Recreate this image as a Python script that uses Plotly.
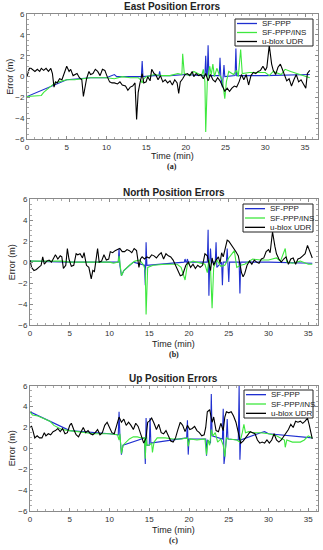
import plotly.graph_objects as go

# ---------------- East ----------------
e_ublox_t = [0,0.3,0.5,0.8,1.0,1.3,1.6,1.8,2.1,2.4,2.7,3.0,3.2,3.4,3.6,3.8,4.1,4.4,4.7,5.0,5.3,5.5,5.8,6.0,6.3,6.6,6.9,7.1,7.3,7.5,7.8,8.0,8.3,8.6,8.9,9.2,9.5,9.8,10.1,10.4,10.7,11.0,11.4,11.7,12.0,12.4,12.7,13.0,13.3,13.6,13.8,14.0,14.2,14.5,14.7,15.0,15.2,15.5,15.7,16.0,16.2,16.5,16.8,17.1,17.4,17.7,18.0,18.3,18.6,18.9,19.1,19.3,19.6,19.9,20.2,20.5,20.8,21.0,21.3,21.6,21.9,22.2,22.5,22.8,23.1,23.4,23.7,24.0,24.3,24.6,24.9,25.2,25.5,25.8,26.1,26.4,26.7,27.0,27.3,27.6,27.9,28.2,28.5,28.8,29.1,29.4,29.7,30.0,30.2,30.5,30.8,31.0,31.3,31.6,31.9,32.1,32.4,32.7,33.0,33.3,33.6,33.9,34.2,34.5,34.8,35.1,35.3,35.6]
e_ublox_v = [0.0,0.8,0.8,0.6,0.5,0.7,0.5,0.8,0.6,0.8,0.5,0.8,0.3,-1.0,-0.5,-0.6,-0.2,-0.3,0.3,1.0,0.5,0.7,0.1,0.2,0.3,-0.1,-0.3,-1.9,-0.8,-0.2,0.5,0.2,0.3,0.7,0.5,0.1,0.7,0.6,0.0,-0.5,-0.6,-0.6,-0.7,-0.5,-0.8,-0.9,-1.3,-1.0,-0.9,-0.6,-4.1,-1.5,-0.7,0.3,-0.6,-0.5,0.0,-0.4,0.7,0.3,0.2,-0.3,0.1,-0.5,-0.3,-0.6,-0.4,-0.8,-0.3,-0.6,-1.6,-0.5,-0.2,0.2,0.3,0.1,0.5,0.0,0.3,0.1,0.2,-0.2,0.3,-0.4,0.2,-0.3,-0.5,-0.1,-0.4,-0.9,-1.4,-1.1,-1.4,-1.1,-0.9,-1.0,-0.5,0.2,-0.3,0.2,-0.8,0.1,0.4,0.3,0.5,0.6,1.0,0.6,0.9,3.0,1.2,0.6,0.2,0.9,1.2,0.8,0.1,-0.4,-0.2,-0.9,-0.3,0.2,-0.5,-0.3,-0.7,-1.1,0.3,0.6]

e_ins_t = [0,1.8,2.1,2.6,3.0,3.5,4.0,5.0,6.0,7.0,8.0,10.0,11.0,12.0,13.0,14.0,14.3,14.5,14.7,15.0,16.0,17.0,18.0,19.0,19.5,19.6,19.8,20.5,21.0,22.0,22.2,22.4,22.5,22.7,23.0,23.2,23.4,23.6,23.9,24.2,24.6,24.9,25.1,25.4,26.0,26.4,26.6,26.9,27.1,28.0,30.0,30.5,31.0,32.0,32.5,33.2,34.0,35.0,35.6]
e_ins_v = [-1.9,-1.8,-1.5,-1.2,-0.9,-0.6,-0.5,-0.3,-0.3,-0.2,-0.1,-0.1,-0.2,0.0,-0.1,-0.1,-0.3,-0.6,-0.2,0.0,0.2,0.1,0.1,0.3,0.2,2.2,0.3,0.1,0.5,0.1,0.7,-0.5,-5.3,-0.5,1.0,0.2,1.2,0.0,0.8,0.2,-0.3,-2.1,-0.5,0.5,0.2,0.6,0.0,2.6,0.3,0.4,0.4,0.1,0.5,0.2,0.7,0.5,0.3,0.1,-0.1]

e_ppp_t = [0,3.0,5.0,8.0,10.0,11.0,11.3,12.0,14.0,14.4,14.5,14.6,16.0,16.6,16.7,16.8,18.0,20.0,22.0,22.4,22.5,22.6,22.7,22.8,22.9,24.2,24.3,24.4,24.6,24.8,24.9,26.2,26.3,26.4,27.0,30.0,35.6]
e_ppp_v = [-1.9,-0.9,-0.3,-0.1,-0.1,0.2,0.0,0.0,0.0,0.0,1.5,0.0,0.1,0.1,0.5,0.1,0.1,0.2,0.1,0.1,2.0,0.0,0.2,3.0,0.1,0.1,1.8,0.0,-1.0,1.1,0.0,0.1,2.7,0.1,0.1,0.1,0.2]

# ---------------- North ----------------
n_ublox_t = [0,0.2,0.5,0.8,1.1,1.4,1.6,1.8,2.1,2.4,2.7,3.0,3.2,3.5,3.8,4.0,4.2,4.5,4.7,4.9,5.2,5.5,5.8,6.0,6.3,6.6,6.8,7.1,7.4,7.7,7.9,8.1,8.3,8.5,8.7,9.0,9.3,9.6,9.9,10.1,10.4,10.7,11.0,11.3,11.6,11.9,12.2,12.5,12.8,13.1,13.4,13.7,13.9,14.1,14.4,14.7,15.0,15.3,15.6,15.9,16.2,16.5,16.8,17.1,17.4,17.7,18.0,18.3,18.6,18.9,19.2,19.4,19.6,19.9,20.2,20.5,20.8,21.1,21.4,21.7,22.0,22.3,22.5,22.7,22.9,23.1,23.4,23.7,23.9,24.1,24.3,24.6,24.8,25.0,25.3,25.6,25.9,26.2,26.4,26.6,26.8,27.0,27.3,27.6,27.9,28.2,28.5,28.8,29.1,29.4,29.7,30.0,30.2,30.5,30.8,31.0,31.3,31.6,31.9,32.2,32.5,32.8,33.1,33.4,33.7,34.0,34.3,34.6,34.9,35.2,35.5]
n_ublox_v = [0.2,-0.5,-0.8,-0.7,-0.5,-0.3,0.5,-0.2,0.1,0.2,0.0,0.5,0.7,0.3,0.6,0.5,-0.6,-0.3,1.3,0.3,-0.4,-0.3,0.8,0.7,0.8,0.4,0.9,-0.3,-0.5,-1.6,-0.8,-0.9,0.2,1.3,0.0,0.1,0.7,0.2,0.3,1.0,0.9,1.1,1.2,1.3,1.0,1.0,1.2,1.1,0.9,1.3,1.1,-0.5,0.3,0.5,0.3,0.5,0.4,0.7,0.6,0.4,0.7,0.9,0.3,0.8,0.6,0.5,0.2,-0.3,-0.8,-1.3,-1.2,-0.7,-0.3,0.0,-0.5,-0.2,-0.6,-0.3,-0.5,-0.3,0.8,0.6,0.0,-0.8,0.4,-0.3,0.2,0.5,-0.1,0.9,0.5,1.5,2.1,2.0,1.7,1.3,1.0,0.6,-0.3,-1.0,-1.4,-1.1,-0.3,0.1,-0.2,0.2,0.0,-0.1,0.3,0.4,1.0,1.2,0.9,2.9,1.5,0.8,0.3,0.0,0.3,0.5,-0.2,0.3,0.4,-0.2,0.3,0.4,0.6,0.8,1.6,1.0,0.4]

n_ins_t = [0,2.0,4.0,5.0,8.0,10.0,10.5,11.1,11.2,11.3,11.5,11.8,12.5,13.2,13.8,14.3,14.5,14.6,14.8,15.5,17.0,18.5,19.0,19.5,19.8,20.5,21.5,22.0,22.3,22.5,22.7,22.9,23.1,23.5,24.0,24.5,25.0,25.7,26.0,26.5,27.0,28.0,29.0,30.0,31.0,31.5,32.1,32.3,33.0,34.0,35.0,35.5]
n_ins_v = [0.1,0.1,0.1,0.0,0.0,0.0,-0.1,0.0,0.6,-0.3,-1.3,-0.8,-0.3,0.1,0.2,-0.3,-0.8,-5.0,-0.5,-0.3,-0.2,-0.2,-0.5,-1.7,-0.2,0.1,-0.1,-0.2,-1.0,0.3,-0.5,-4.4,-0.5,0.2,-0.4,-0.3,0.4,1.1,-0.5,-0.3,-0.2,0.3,0.2,0.2,0.4,0.1,1.3,0.0,-0.1,0.1,-0.2,-0.2]

n_ppp_t = [0,5.0,10.0,11.1,11.2,11.3,11.5,11.8,13.0,14.4,14.5,14.6,14.7,16.0,19.4,19.5,19.6,19.7,19.8,19.9,21.0,22.3,22.4,22.5,22.6,22.7,22.8,23.3,23.4,23.5,24.1,24.2,24.3,24.7,24.8,24.9,25.0,25.1,26.3,26.4,26.5,27.0,30.0,35.5]
n_ppp_v = [0.1,0.0,0.0,0.0,1.3,-0.3,-1.3,-0.8,0.0,-0.3,-2.2,1.9,-0.3,-0.2,0.0,0.3,0.0,0.0,0.3,0.0,0.0,0.0,3.1,-3.2,0.0,1.3,0.0,0.0,1.9,-0.5,0.0,-2.2,0.0,0.0,1.3,0.0,-1.9,0.0,0.0,-3.0,0.0,0.0,0.0,-0.1]

# ---------------- Up ----------------
u_ublox_t = [0,0.2,0.4,0.6,0.9,1.2,1.5,1.8,2.0,2.3,2.6,2.9,3.2,3.5,3.8,4.1,4.4,4.7,5.0,5.2,5.5,5.8,6.1,6.4,6.7,7.0,7.3,7.6,7.9,8.2,8.5,8.8,9.1,9.4,9.7,10.0,10.3,10.6,10.9,11.2,11.5,11.8,12.1,12.4,12.7,13.0,13.3,13.6,14.0,14.3,14.6,14.8,15.0,15.3,15.6,15.9,16.2,16.5,16.8,17.1,17.4,17.7,18.0,18.3,18.6,18.9,19.2,19.5,19.8,20.1,20.4,20.7,21.0,21.3,21.6,21.9,22.1,22.3,22.6,22.9,23.1,23.4,23.7,24.0,24.3,24.5,24.7,25.0,25.3,25.6,25.9,26.2,26.5,26.8,27.1,27.4,27.7,28.0,28.3,28.6,28.9,29.2,29.5,29.8,30.1,30.4,30.7,31.0,31.3,31.6,31.9,32.2,32.5,32.8,33.1,33.4,33.7,34.0,34.3,34.6,34.9,35.1,35.3,35.5]
u_ublox_v = [2.0,2.1,1.6,1.0,1.2,1.0,1.0,1.5,1.2,1.4,1.3,1.6,1.7,1.9,1.6,1.9,1.4,1.5,2.2,2.4,1.8,1.3,1.1,1.6,2.0,1.5,1.7,1.4,1.3,1.5,1.8,1.3,1.5,2.2,2.5,2.0,1.5,1.4,2.2,3.0,2.5,2.8,2.2,2.5,2.2,1.8,2.4,2.1,1.2,0.5,1.0,2.5,2.6,2.9,2.4,1.8,2.3,1.5,1.4,1.7,1.2,0.7,0.6,1.0,1.8,2.5,2.2,1.6,2.2,1.8,1.9,2.1,1.7,1.5,1.2,1.3,2.0,3.5,3.7,2.5,3.0,1.7,1.6,2.4,1.7,3.0,3.5,3.4,3.5,3.1,2.5,1.5,0.5,0.7,1.0,1.2,1.6,1.5,1.4,0.8,0.5,0.6,0.5,0.8,0.5,0.8,1.4,0.8,0.6,0.8,1.1,1.5,1.8,2.3,2.0,2.6,2.5,2.6,2.4,2.6,2.9,2.3,1.5,0.9]

u_ins_t = [0,0.3,1.0,2.0,2.5,3.0,3.5,4.0,5.0,6.0,7.0,8.0,9.0,10.0,11.0,11.2,11.3,11.5,11.7,12.0,12.5,13.0,13.5,14.0,14.4,14.5,14.6,14.7,15.0,15.3,15.4,15.6,16.0,17.0,18.0,19.0,19.8,19.9,20.1,21.0,22.0,22.2,22.4,22.6,22.8,23.0,23.3,23.6,24.0,24.3,24.5,24.7,25.0,26.0,26.4,26.7,26.9,27.1,27.5,28.0,29.0,30.0,31.0,31.5,32.0,32.1,32.3,33.0,34.0,34.5,35.0,35.5]
u_ins_v = [3.5,3.2,3.1,2.8,2.6,2.2,2.0,1.8,1.7,1.6,1.5,1.4,1.4,1.4,1.3,0.8,1.4,-0.5,0.3,0.5,0.9,1.1,1.1,1.0,1.0,-1.0,1.2,0.3,0.3,0.5,-0.4,0.6,1.0,1.0,0.9,0.9,1.0,0.2,0.9,0.8,0.9,-0.6,0.8,0.3,1.8,1.2,1.5,0.6,0.9,0.3,-0.8,1.0,0.9,0.8,0.6,1.5,2.3,1.5,1.6,1.5,1.5,1.4,1.2,1.0,0.8,0.1,0.8,0.6,0.6,0.8,1.2,1.0]

u_ppp_t = [0,5.0,10.0,11.1,11.2,11.3,11.5,11.7,14.4,14.5,14.6,14.7,15.0,15.1,15.2,19.7,19.8,19.9,20.0,22.1,22.2,22.3,22.7,22.8,22.9,24.2,24.3,24.4,24.5,24.7,24.8,24.9,26.2,26.3,26.4,26.5,29.0,29.5,30.0,35.5]
u_ppp_v = [3.5,1.7,1.4,1.3,3.5,1.4,-0.6,0.3,1.0,-1.5,2.9,0.3,0.3,2.9,0.5,1.0,2.7,-0.6,0.9,0.9,-0.7,0.8,0.5,5.2,1.2,0.9,3.8,-1.5,-0.8,1.0,2.8,0.9,0.8,6.0,-1.1,0.8,1.5,1.6,1.4,1.0]

titles = ["East Position Errors", "North Position Errors", "Up Position Errors"]
sublabels = ["(a)", "(b)", "(c)"]
names = ["SF-PPP", "SF-PPP/INS", "u-blox UDR"]
y_ticks = [-6, -4, -2, 0, 2, 4, 6]
x_ticks = [0, 5, 10, 15, 20, 25, 30, 35]

panels = [
    (e_ppp_t, e_ppp_v, e_ins_t, e_ins_v, e_ublox_t, e_ublox_v),
    (n_ppp_t, n_ppp_v, n_ins_t, n_ins_v, n_ublox_t, n_ublox_v),
    (u_ppp_t, u_ppp_v, u_ins_t, u_ins_v, u_ublox_t, u_ublox_v),
]

W, H = 323, 550
# pixel boxes: (left, right, top, bottom, x-pixel of tick 35)
boxes = [(27, 317.7, 14, 139.3, 305), (30, 317.7, 199.3, 325, 308.3), (30, 317.7, 385.7, 511, 308.3)]
# legend boxes: (left, right, top, bottom)
leg_boxes = [(235, 313, 19, 46), (243, 313, 204, 232), (244, 313, 390, 418)]
xlabel_off = [16.5, 18.5, 18.5]
sub_off = [27, 29.5, 29.5]
ylabel_x = [10, 12, 12]
colors = ["#1f2fd0", "#3ee83e", "#000000"]

fig = go.Figure()
FONT = "Liberation Sans, Arial, sans-serif"
axis_style = dict(showgrid=False, zeroline=False, showline=True, linecolor="#8a8a8a",
                  linewidth=1, mirror="ticks", ticks="inside", ticklen=3, automargin=False,
                  tickcolor="#8a8a8a", tickfont=dict(size=8, color="#333", family=FONT))

annotations = []
shapes = []
def ann(text, x, y, size=9, family=FONT, xanchor="center", angle=0):
    return dict(text=text, x=x, y=y, xref="paper", yref="paper", showarrow=False,
                xanchor=xanchor, yanchor="middle", textangle=angle,
                font=dict(size=size, family=family, color="#222"))

for i, p in enumerate(panels):
    n = i + 1
    xa = "x" if n == 1 else f"x{n}"
    ya = "y" if n == 1 else f"y{n}"
    for k in range(3):
        fig.add_trace(go.Scatter(x=p[2*k], y=p[2*k+1], mode="lines", name=names[k],
                                 line=dict(color=colors[k], width=1.1),
                                 xaxis=xa, yaxis=ya, showlegend=False))
    l, r, t, b, x35 = boxes[i]
    xd = [l / W, r / W]
    yd = [1 - b / H, 1 - t / H]
    xr = [0, 35 * (r - l) / (x35 - l)]
    fig.update_layout(**{
        ("xaxis" if n == 1 else f"xaxis{n}"): dict(domain=xd, range=xr, tickvals=x_ticks,
            anchor=ya, minor=dict(ticks="inside", ticklen=2, dtick=1, tickcolor="#aaa"), **axis_style),
        ("yaxis" if n == 1 else f"yaxis{n}"): dict(domain=yd, range=[-6, 6], tickvals=y_ticks,
            anchor=xa, minor=dict(ticks="inside", ticklen=2, dtick=0.5, tickcolor="#aaa"), **axis_style),
    })
    cx = (l + r) / 2 / W
    annotations.append(ann(f"<b>{titles[i]}</b>", cx, 1 - (t - 7) / H, size=10))
    annotations.append(ann("Time (min)", cx, 1 - (b + xlabel_off[i]) / H))
    annotations.append(ann("Error (m)", ylabel_x[i] / W, 1 - (t + b) / 2 / H, angle=-90))
    annotations.append(ann(f"<b>{sublabels[i]}</b>", cx, 1 - (b + sub_off[i]) / H,
                           size=8, family="Liberation Serif, serif"))
    # legend box
    ll, lr, lt, lb = leg_boxes[i]
    shapes.append(dict(type="rect", xref="paper", yref="paper", x0=ll / W, x1=lr / W,
                       y0=1 - lb / H, y1=1 - lt / H, fillcolor="white",
                       line=dict(color="#222", width=1), layer="above"))
    rowh = (lb - lt) / 3
    for k in range(3):
        yy = 1 - (lt + rowh * (k + 0.5)) / H
        shapes.append(dict(type="line", xref="paper", yref="paper", x0=(ll + 2) / W,
                           x1=(ll + 22) / W, y0=yy, y1=yy, layer="above",
                           line=dict(color=colors[k], width=1.3)))
        annotations.append(ann(names[k], (ll + 25) / W, yy, size=8, xanchor="left"))

fig.update_layout(width=W, height=H, margin=dict(l=0, r=0, t=0, b=0),
                  plot_bgcolor="white", paper_bgcolor="white",
                  annotations=annotations, shapes=shapes, showlegend=False)
fig.write_html("out.html", config={"displayModeBar": False},
               post_script="document.body.style.margin='0';document.body.style.overflow='hidden';")
